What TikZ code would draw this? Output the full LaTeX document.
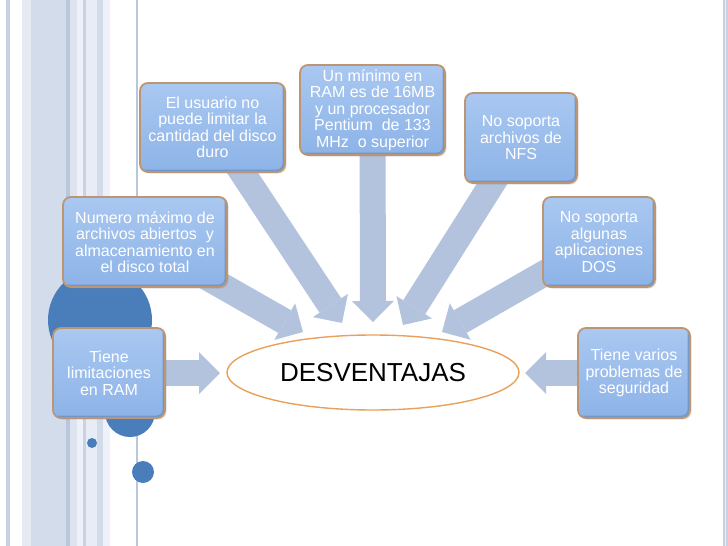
\documentclass[tikz,border=0pt]{standalone}
\usepackage{fontspec}
\setmainfont{Liberation Sans}
\usetikzlibrary{arrows.meta,shapes.geometric,shadows}
\pgfdeclarelayer{bg}
\pgfdeclarelayer{arr}
\pgfsetlayers{bg,arr,main}
\definecolor{boxtop}{HTML}{A9C8F1}
\definecolor{boxbot}{HTML}{8DB3E7}
\definecolor{boxbev}{HTML}{6A8FC4}
\definecolor{boxedge}{HTML}{BC9674}
\definecolor{arrblue}{HTML}{B3C3DD}
\definecolor{elledge}{HTML}{E8A05A}
\definecolor{dotblue}{HTML}{4A7EBB}
\definecolor{stA}{HTML}{C8D2E4}
\definecolor{stB}{HTML}{E6EBF3}
\definecolor{stC}{HTML}{D3DCEA}
\definecolor{stD}{HTML}{B9C7DD}
\definecolor{stE}{HTML}{DDE4EF}
\definecolor{stF}{HTML}{EEF1F7}
\definecolor{stG}{HTML}{C9D3E5}
\definecolor{stH}{HTML}{E8EDF5}
\definecolor{stI}{HTML}{D2DBE9}
\definecolor{stJ}{HTML}{EEF2F8}
\begin{document}
\begin{tikzpicture}[x=1pt,y=-1pt,
  idea/.style={draw=boxedge,line width=1.8pt,rounded corners=8pt,top color=boxtop,bottom color=boxbot,
    text=white,align=center,inner sep=0pt,font=\fontsize{16}{16.5}\selectfont,
    drop shadow={opacity=0.25,shadow xshift=1.5pt,shadow yshift=-1.5pt},
    path picture={\draw[boxbev,line width=5pt,opacity=0.8]
      (path picture bounding box.north east) -- (path picture bounding box.south east)
      -- (path picture bounding box.south west);}},
  flow/.style={draw=arrblue,line width=26pt,-{Triangle[width=42pt,length=21pt,line width=0pt]}}]

\useasboundingbox (0,0) rectangle (728,546);

\begin{pgfonlayer}{bg}
\fill[white] (0,0) rectangle (728,546);
\foreach \a/\b/\c in {6/10/stA,22/31/stB,31/66/stC,66/70/stD,70/77/stE,77/83/stF,83/86/stG,86/97/stH,97/103/stI,103/110/stJ,136/138/stD,723/728/stA}
  \fill[\c] (\a,0) rectangle (\b,546);
\fill[white!60!stA] (725,0) rectangle (726,546);
\fill[dotblue] (100,320) circle (52pt);
\fill[dotblue] (130,412) circle (25pt);
\fill[dotblue] (92,443) circle (5pt);
\fill[dotblue] (143,472) circle (11pt);
\end{pgfonlayer}

\node[idea,minimum width=145pt,minimum height=89pt] (usuario) at (212.5,127.5) {El usuario no\\puede limitar la\\cantidad del disco\\duro};
\node[idea,minimum width=164pt,minimum height=90pt] (numero) at (145,242) {Numero máximo de\\archivos abiertos~ y\\almacenamiento en\\el disco total};
\node[idea,minimum width=145pt,minimum height=90pt] (minimo) at (372.5,110) {Un mínimo en\\RAM es de 16MB\\y un procesador\\Pentium~ de 133\\MHz~ o superior};
\node[idea,minimum width=112pt,minimum height=90pt] (nfs) at (521,138) {No soporta\\archivos de\\NFS};
\node[idea,minimum width=112pt,minimum height=90pt] (dos) at (599,242) {No soporta\\algunas\\aplicaciones\\DOS};
\node[idea,minimum width=112pt,minimum height=90pt] (segur) at (634,373) {Tiene varios\\problemas de\\seguridad};
\node[idea,minimum width=112pt,minimum height=90pt] (ram) at (109,373) {Tiene\\limitaciones\\en RAM};

\node[ellipse,draw=elledge,line width=1.4pt,fill=white,minimum width=292pt,minimum height=75pt,
  font=\fontsize{26}{26}\selectfont] (desv) at (373,372.5) {DESVENTAJAS};

\coordinate (tipram) at (220,373);
\coordinate (tipnum) at (303,332);
\coordinate (tipusu) at (342,323);
\coordinate (tipmin) at (373,322);
\coordinate (tipnfs) at (403,325);
\coordinate (tipdos) at (442,332);
\coordinate (tipseg) at (525,373);

\begin{pgfonlayer}{arr}
\draw[flow] (ram.center) -- (tipram);
\draw[flow] (numero.center) -- (tipnum);
\draw[flow] (usuario.center) -- (tipusu);
\draw[flow] (minimo.center) -- (tipmin);
\draw[flow] (nfs.center) -- (tipnfs);
\draw[flow] (dos.center) -- (tipdos);
\draw[flow] (segur.center) -- (tipseg);
\end{pgfonlayer}
\end{tikzpicture}
\end{document}
